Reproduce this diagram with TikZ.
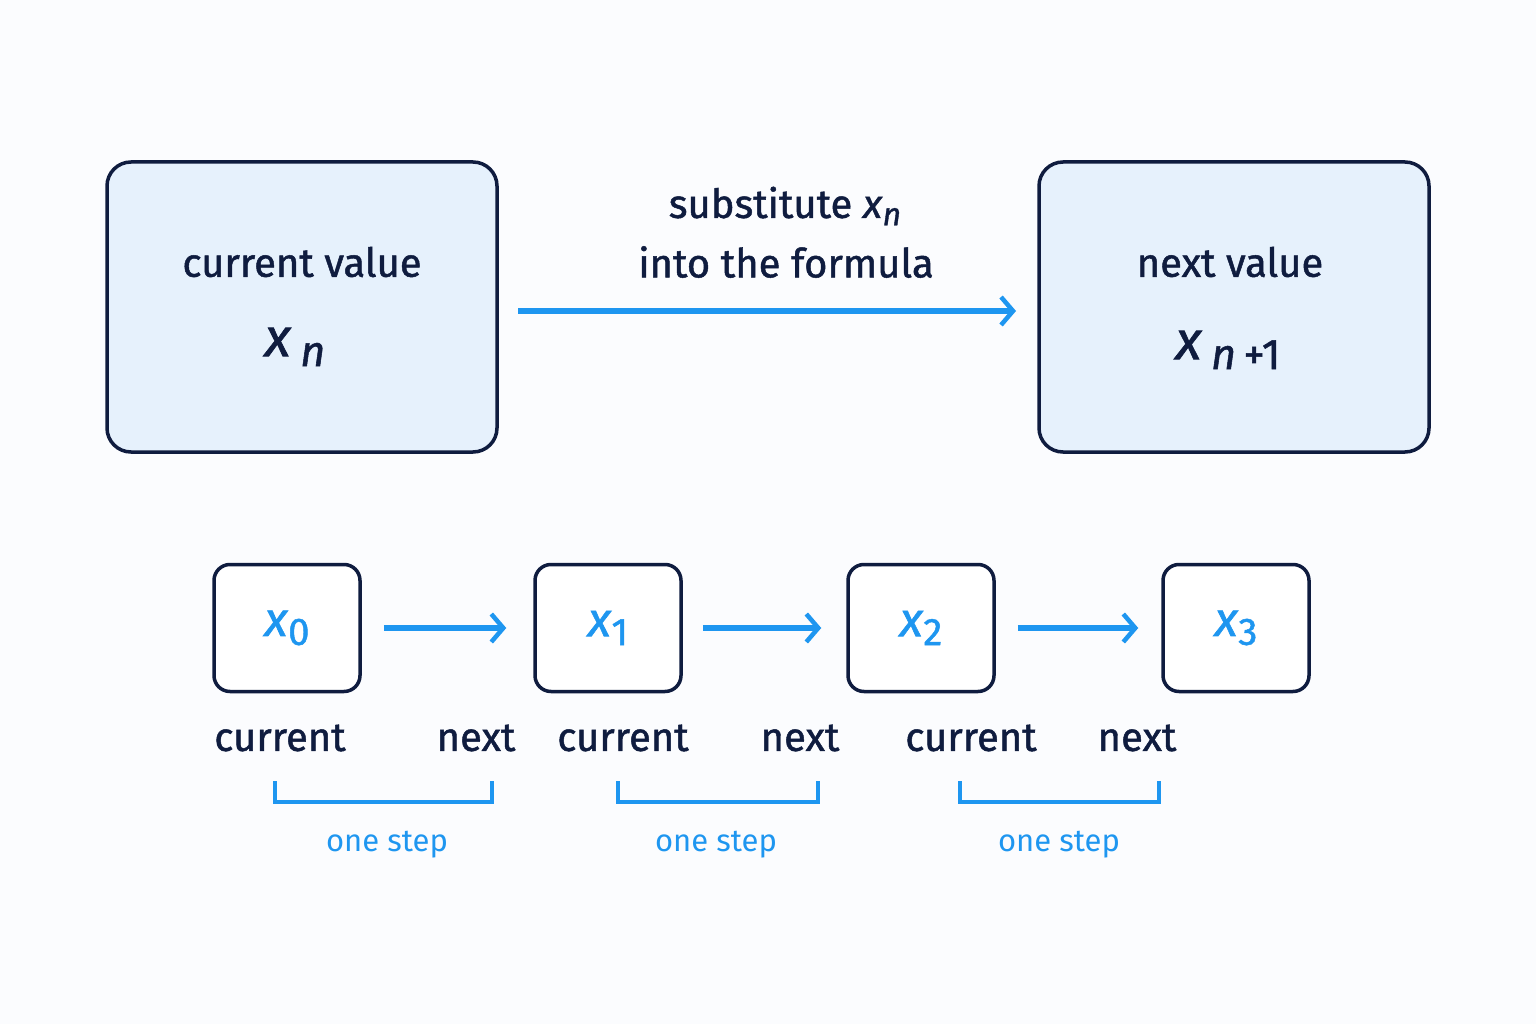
\documentclass[tikz,border=0pt]{standalone}
\usepackage{fontspec}
\setmainfont{Fira Sans}
\newfontfamily\med{Fira Sans}[FakeBold=1.2]
\usetikzlibrary{arrows.meta}
\definecolor{navy}{HTML}{0F1C3F}
\definecolor{blu}{HTML}{1E96F0}
\definecolor{pale}{HTML}{E6F1FC}
\definecolor{bg}{HTML}{FBFCFE}
\newcommand{\sub}[1]{\raisebox{-0.35ex}{\scalebox{0.8}{#1}}}
\begin{document}
\begin{tikzpicture}[x=1pt,y=-1pt,
 big/.style={draw=navy,line width=3.5pt,fill=pale,rounded corners=24pt,minimum width=390pt,minimum height=290pt},
 small/.style={draw=navy,line width=3.5pt,fill=white,rounded corners=16pt,minimum width=146pt,minimum height=127pt,text=blu,font=\med\fontsize{48}{52}\selectfont},
 arr/.style={blu,line width=5.5pt,-{Straight Barb[length=12pt,width=28pt,line width=4.5pt]}},
 lab/.style={text=navy,font=\med\fontsize{40}{46}\selectfont,inner sep=0},
 steplab/.style={text=blu,font=\fontsize{31}{36}\selectfont,inner sep=0},
 brk/.style={blu,line width=3.5pt}]
\fill[bg] (0,0) rectangle (1536,1024);
\useasboundingbox (0,0) rectangle (1536,1024);
\node[big] (L) at (302,307) {};
\node[big] (R) at (1234,307) {};
\node[lab] (lt) at (302,262) {current value};
\node[lab,font=\med\fontsize{54}{58}\selectfont] (lx) at (295,347) {\textit{x}\,\textit{\sub{n}}};
\node[lab] (rt) at (1230,262) {next value};
\node[lab,font=\med\fontsize{54}{58}\selectfont] (rx) at (1228,350) {\textit{x}\,\sub{\textit{n}\,+1}};
\coordinate (a1) at (518,311); \coordinate (a2) at (1016,311);
\draw[arr] (a1) -- (a2);
\node[lab] (s1) at (785,206) {substitute \textit{x}\sub{\textit{n}}};
\node[lab] (s2) at (786,262) {into the formula};
\node[small] (b0) at (287,628) {\textit{x}\sub{0}};
\node[small] (b1) at (608,628) {\textit{x}\sub{1}};
\node[small] (b2) at (921,628) {\textit{x}\sub{2}};
\node[small] (b3) at (1236,628) {\textit{x}\sub{3}};
\draw[arr] ([xshift=22pt]b0.east) -- ([xshift=-27pt]b1.west);
\draw[arr] ([xshift=20pt]b1.east) -- ([xshift=-25pt]b2.west);
\draw[arr] ([xshift=22pt]b2.east) -- ([xshift=-23pt]b3.west);
\node[lab] (c0l) at (280,738) {current};
\node[lab] (n0l) at (476,738) {next};
\node[lab] (c1l) at (623,738) {current};
\node[lab] (n1l) at (800,738) {next};
\node[lab] (c2l) at (971,738) {current};
\node[lab] (n2l) at (1137,738) {next};
\draw[brk] (275,781) -- (275,802) -- (492,802) -- (492,781);
\draw[brk] (618,781) -- (618,802) -- (818,802) -- (818,781);
\draw[brk] (960,781) -- (960,802) -- (1159,802) -- (1159,781);
\node[steplab] (o0) at (387,845) {one step};
\node[steplab] (o1) at (716,845) {one step};
\node[steplab] (o2) at (1059,845) {one step};
\end{tikzpicture}
\end{document}
